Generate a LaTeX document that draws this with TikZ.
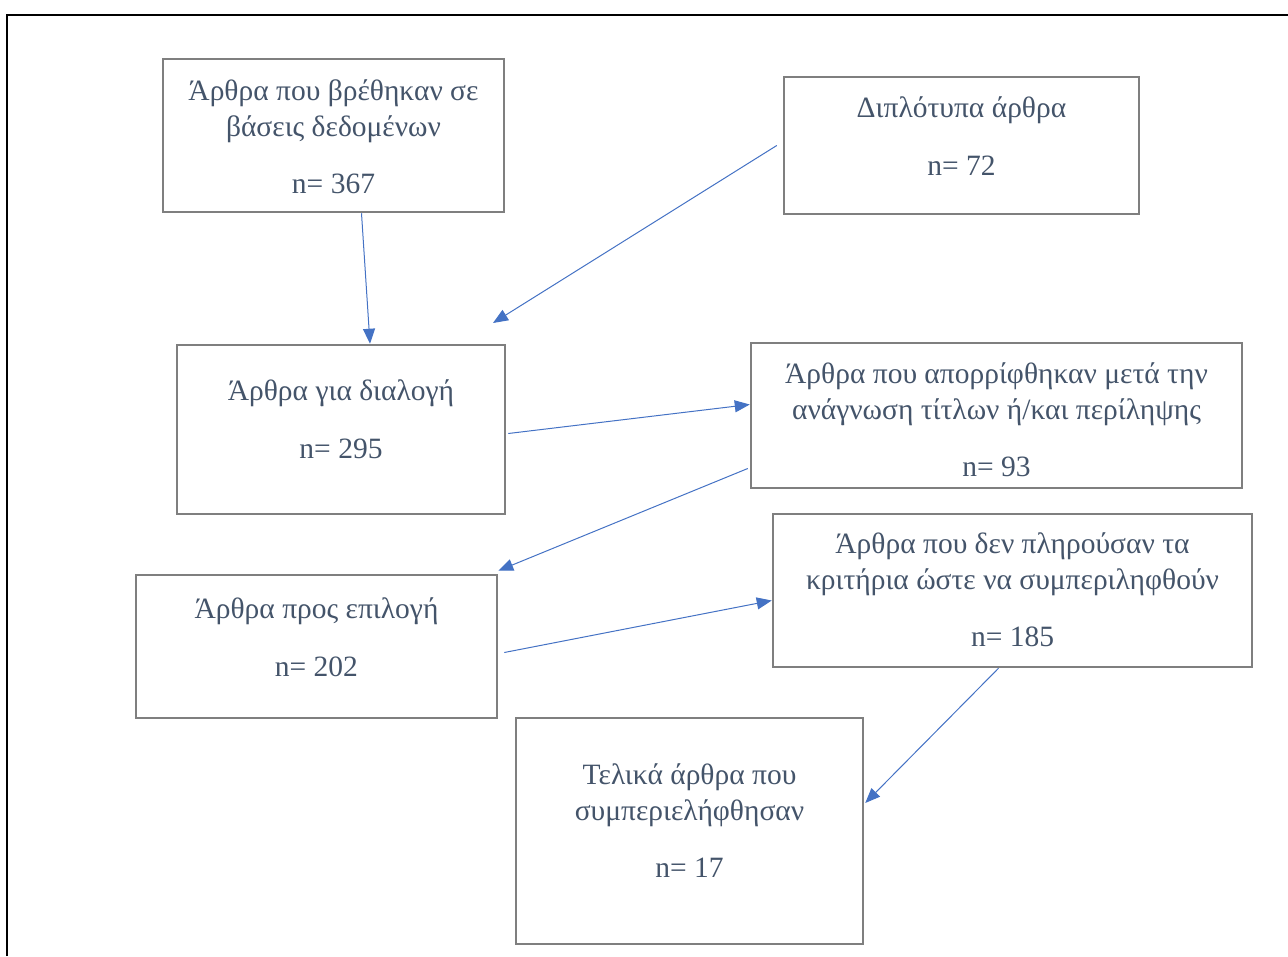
\documentclass[tikz,border=0pt]{standalone}
\usepackage{fontspec}
\setmainfont{Liberation Serif}
\usepackage{xcolor}
\usetikzlibrary{arrows.meta,positioning}
\definecolor{txtgray}{HTML}{44546A}
\definecolor{boxgray}{HTML}{7F7F7F}
\definecolor{arrowblue}{HTML}{4472C4}
\tikzset{
  box/.style={draw=boxgray,line width=2.5pt,inner sep=0pt},
  txt/.style={anchor=north,inner sep=0pt,align=center,text=txtgray,font=\fontsize{29.5}{36}\selectfont},
  flow/.style={draw=arrowblue,line width=1pt,-{Triangle[length=15pt,width=12pt]}}
}
\begin{document}
\begin{tikzpicture}[x=1pt,y=-1pt]
\useasboundingbox(0,0)rectangle(1288,956);
\draw[line width=2.5pt](7,956)--(7,15)--(1288,15);
\node[box,minimum width=341pt,minimum height=153pt](A)at(333.5,135.5){};
\node[box,minimum width=355pt,minimum height=137pt](B)at(961.5,145.5){};
\node[box,minimum width=328pt,minimum height=169pt](C)at(341,429.5){};
\node[box,minimum width=491pt,minimum height=145pt](D)at(996.5,415.5){};
\node[box,minimum width=361pt,minimum height=143pt](E)at(316.5,646.5){};
\node[box,minimum width=479pt,minimum height=153pt](F)at(1012.5,590.5){};
\node[box,minimum width=347pt,minimum height=226pt](G)at(689.5,831){};
\node[txt,below=22pt of A.north](At){Άρθρα που βρέθηκαν σε\\βάσεις δεδομένων\\[21pt]n= 367};
\node[txt,below=21pt of B.north](Bt){Διπλότυπα άρθρα\\[22pt]n= 72};
\node[txt,below=36pt of C.north](Ct){Άρθρα για διαλογή\\[22pt]n= 295};
\node[txt,below=21pt of D.north](Dt){Άρθρα που απορρίφθηκαν μετά την\\ανάγνωση τίτλων ή/και περίληψης\\[21pt]n= 93};
\node[txt,below=24pt of E.north](Et){Άρθρα προς επιλογή\\[22pt]n= 202};
\node[txt,below=20pt of F.north](Ft){Άρθρα που δεν πληρούσαν τα\\κριτήρια ώστε να συμπεριληφθούν\\[21pt]n= 185};
\node[txt,below=47pt of G.north](Gt){Τελικά άρθρα που\\συμπεριελήφθησαν\\[21pt]n= 17};
\coordinate(dupEnd)at(493,323);
\draw[flow]([xshift=28pt]A.south)--([xshift=29pt]C.north);
\draw[flow]([xshift=-6pt]B.west)--(dupEnd);
\draw[flow]([xshift=2pt,yshift=-4pt]C.east)--([yshift=11pt]D.west);
\draw[flow]([xshift=-2pt,yshift=-53pt]D.west)--([yshift=3pt]E.north east);
\draw[flow]([xshift=6pt,yshift=-6pt]E.east)--([yshift=-10pt]F.west);
\draw[flow]([xshift=-14pt]F.south)--([xshift=1pt,yshift=28pt]G.east);
\end{tikzpicture}
\end{document}
